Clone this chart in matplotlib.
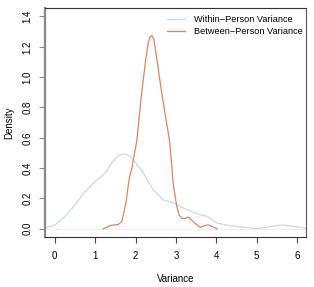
import matplotlib.pyplot as plt
import matplotlib

matplotlib.rc('font', family=['Liberation Sans', 'DejaVu Sans'], size=7)

# within-person variance density
within_x = [-0.24, 0.01, 0.25, 0.50, 0.75, 1.0, 1.25, 1.41, 1.57, 1.70, 1.85, 1.95,
            2.19, 2.44, 2.69, 2.94, 3.18, 3.36, 3.6, 3.77, 4.0, 4.18, 4.34, 4.6,
            5.0, 5.25, 5.63, 6.0, 6.22]
within_y = [0.005, 0.026, 0.081, 0.158, 0.246, 0.312, 0.368, 0.434, 0.482, 0.495, 0.482, 0.455,
            0.37, 0.257, 0.19, 0.17, 0.137, 0.117, 0.092, 0.084, 0.04, 0.028, 0.02, 0.013,
            0.002, 0.01, 0.026, 0.013, 0.004]

# between-person variance density
between_x = [1.2, 1.41, 1.57, 1.66, 1.76, 1.85, 1.9, 2.03, 2.15, 2.25, 2.32, 2.36, 2.40,
             2.45, 2.52, 2.66, 2.85, 2.93, 3.02, 3.08, 3.14, 3.22, 3.31, 3.47, 3.6, 3.7, 3.8, 4.02]
between_y = [0.0, 0.024, 0.028, 0.048, 0.17, 0.345, 0.39, 0.58, 0.895, 1.115, 1.236, 1.265, 1.274,
             1.255, 1.13, 0.873, 0.566, 0.30, 0.147, 0.09, 0.07, 0.068, 0.077, 0.037, 0.009, 0.02, 0.026, 0.0]

xticks = [0, 1, 2, 3, 4, 5, 6]
yticks = [0.0, 0.2, 0.4, 0.6, 0.8, 1.0, 1.2, 1.4]

blue = '#c6d9f1'
orange = '#e0835f'

fig = plt.figure(figsize=(3.14, 2.87), dpi=100)
ax = fig.add_axes([0.1424, 0.1732, 0.8321, 0.7989])

ax.axhline(0, color='#eeeeee', lw=0.8, zorder=1)
ax.plot(within_x, within_y, color=blue, lw=0.9, label='Within\u2212Person Variance')
ax.plot(between_x, between_y, color=orange, lw=0.9, label='Between\u2212Person Variance')

ax.set_xlim(-0.25, 6.22)
ax.set_ylim(-0.056, 1.456)
ax.set_xticks(xticks)
ax.set_xticklabels([str(t) for t in xticks])
ax.set_yticks(yticks)
ax.set_yticklabels(['%.1f' % t for t in yticks], rotation=90, va='center')
ax.tick_params(length=4, width=0.8, color='#444444', pad=6)
ax.tick_params(axis='y', color='#888888', pad=5)

for s in ['top', 'bottom']:
    ax.spines[s].set_color('#333333')
    ax.spines[s].set_linewidth(0.8)
ax.spines['right'].set_color('#555555')
ax.spines['right'].set_linewidth(0.8)
ax.spines['left'].set_color('#888888')
ax.spines['left'].set_linewidth(1.6)

ax.set_xlabel('Variance', labelpad=9)
ax.set_ylabel('Density', labelpad=6)

ax.legend(loc='upper right', bbox_to_anchor=(1.0, 0.983), frameon=False,
          handlelength=1.9, handletextpad=1.0, labelspacing=0.35,
          borderaxespad=0.1, borderpad=0.25, fontsize=6.6)

plt.savefig('out.png', dpi=100)
